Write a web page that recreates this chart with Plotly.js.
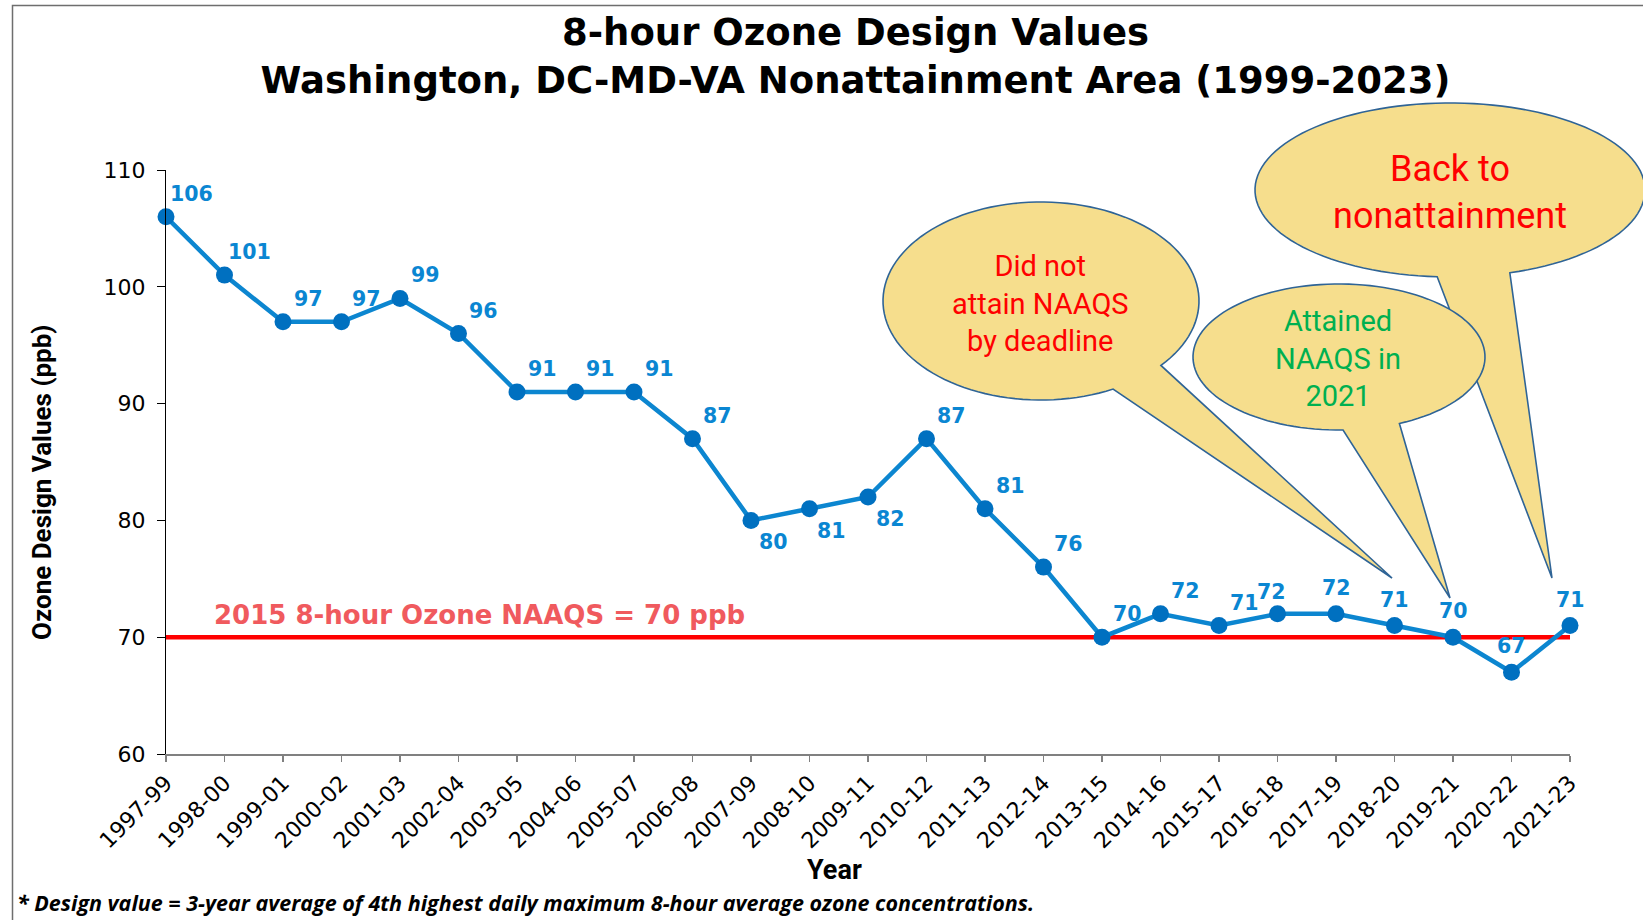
<!DOCTYPE html>
<html><head><meta charset="utf-8">
<script src="https://cdn.plot.ly/plotly-3.0.1.min.js"></script>
<style>html,body{margin:0;padding:0;background:#fff;} #chart{width:1643px;height:920px;}</style>
</head><body><div id="chart"></div>
<script>
// ---- data ----
const periods = ['1997-99','1998-00','1999-01','2000-02','2001-03','2002-04','2003-05','2004-06','2005-07',
  '2006-08','2007-09','2008-10','2009-11','2010-12','2011-13','2012-14','2013-15','2014-16','2015-17',
  '2016-18','2017-19','2018-20','2019-21','2020-22','2021-23'];
const designValues = [106,101,97,97,99,96,91,91,91,87,80,81,82,87,81,76,70,72,71,72,72,71,70,67,71];
const naaqsLevel = 70;
const naaqsText = '2015 8-hour Ozone NAAQS = 70 ppb';
const yTickVals = [60,70,80,90,100,110];
const titleLines = ['8-hour Ozone Design Values','Washington, DC-MD-VA Nonattainment Area (1999-2023)'];
const xTitle = 'Year';
const yTitle = 'Ozone Design Values (ppb)';
const footnote = '* Design value = 3-year average of 4th highest daily maximum 8-hour average ozone concentrations.';
const calloutDeadline = ['Did not','attain NAAQS','by deadline'];
const calloutAttained = ['Attained','NAAQS in','2021'];
const calloutBack = ['Back to','nonattainment'];

// ---- label placement (style) ----
const labelPlacement = ['tr','tr','tr','tr','tr','tr','tr','tr','tr','tr','br','br','br','tr','tr','tr','tr','tr','tr','tl','tc','tc','tc','tc','tc'];
const placeShift = {tr:{x:25,y:23}, br:{x:22,y:-22}, tc:{x:0,y:26}, tl:{x:-6,y:22}};

// ---- geometry helpers ----
const W=1643, H=920, M={l:166,r:73,t:170,b:166};
const PW=W-M.l-M.r, PH=H-M.t-M.b;
const px = x => (x-M.l)/PW;
const py = y => (H-M.b-y)/PH;

function calloutPath(c){
  const ang = p => Math.atan2((p[1]-c.cy)/c.ry, (p[0]-c.cx)/c.rx);
  const a1 = ang(c.b1), a2 = ang(c.b2);
  let d = a1 - a2;
  while(d <= -Math.PI) d += 2*Math.PI;
  while(d > Math.PI) d -= 2*Math.PI;
  const longArc = d - Math.sign(d)*2*Math.PI;
  const N = 120;
  let s = '';
  for(let i=0;i<=N;i++){
    const a = a2 + longArc*i/N;
    const X = c.cx + c.rx*Math.cos(a), Y = c.cy + c.ry*Math.sin(a);
    s += (i===0?'M':'L') + px(X).toFixed(5) + ',' + py(Y).toFixed(5) + ' ';
  }
  s += 'L' + px(c.tip[0]).toFixed(5) + ',' + py(c.tip[1]).toFixed(5) + ' Z';
  return s;
}
const calloutFill = '#f6de8d', calloutLine = '#2f6496';
const calloutGeo = [
  {cx:1041, cy:301, rx:158, ry:99, b1:[1113,389], b2:[1162,366], tip:[1392,578]},
  {cx:1450, cy:190, rx:195, ry:87, b1:[1437,278], b2:[1510,273], tip:[1552,578]},
  {cx:1339, cy:357, rx:146, ry:73, b1:[1343,429], b2:[1399,423], tip:[1450,598]}
];

const shapes = [
  {type:'line', xref:'x', yref:'y', x0:0, x1:periods.length-1, y0:naaqsLevel, y1:naaqsLevel,
   line:{color:'#ff0000', width:4.5}, layer:'below'},
  {type:'path', xref:'paper', yref:'paper', path:`M${px(12.5)},${py(925)} L${px(12.5)},${py(5.5)} L${px(1650)},${py(5.5)}`,
   line:{color:'#6e6e6e', width:1.5}}
];
calloutGeo.forEach(c => shapes.push({type:'path', xref:'paper', yref:'paper', path:calloutPath(c),
  fillcolor:calloutFill, line:{color:calloutLine, width:1.6}, layer:'above'}));

const annotations = [];
designValues.forEach((v,i) => {
  const sh = placeShift[labelPlacement[i]];
  annotations.push({x:periods[i], y:v, xref:'x', yref:'y', text:String(v), showarrow:false,
    xshift:sh.x, yshift:sh.y, font:{family:'DejaVu Sans', size:20.5, weight:'bold', color:'#0a86d2'}});
});
annotations.push({x:px(212), y:py(615), xref:'paper', yref:'paper', xanchor:'left', yanchor:'middle',
  text:naaqsText, showarrow:false, font:{family:'DejaVu Sans', size:26, weight:'bold', color:'#f05a5e'}});
annotations.push({x:px(15), y:py(902), xref:'paper', yref:'paper', xanchor:'left', yanchor:'middle',
  text:footnote, showarrow:false, font:{family:'Open Sans', size:21.5, weight:'bold', style:'italic', color:'#000'}});
annotations.push({x:px(834), y:py(870), xref:'paper', yref:'paper', xanchor:'center', yanchor:'middle',
  text:xTitle, showarrow:false, font:{family:'Roboto', size:27, weight:'bold', color:'#000'}});
annotations.push({x:px(42), y:py(483), xref:'paper', yref:'paper', xanchor:'center', yanchor:'middle', textangle:-90,
  text:yTitle, showarrow:false, font:{family:'Roboto', size:26, weight:'bold', color:'#000'}});

function calloutText(lines, cx, cy, size, color){
  annotations.push({x:px(cx), y:py(cy), xref:'paper', yref:'paper', xanchor:'center', yanchor:'middle',
    text:lines.join('<br>'), showarrow:false, align:'center',
    font:{family:'Roboto', size:size, color:color}});
}
calloutText(calloutDeadline, 1040, 303, 29, '#ff0000');
calloutText(calloutAttained, 1338, 358, 29, '#00b050');
calloutText(calloutBack, 1450, 192, 36, '#ff0000');

const trace = {
  x: periods, y: designValues, type:'scatter', mode:'lines+markers', cliponaxis:false,
  line:{color:'#0c86d0', width:4.5}, marker:{color:'#0070c0', size:17}, hoverinfo:'x+y'
};

const layout = {
  width:W, height:H, margin:M, paper_bgcolor:'#fff', plot_bgcolor:'#fff', showlegend:false,
  title:{text:titleLines.join('<br>'), xref:'container', yref:'container', x:855.5/W, xanchor:'center',
    y:1-44.5/H, yanchor:'middle', font:{family:'DejaVu Sans', size:37, weight:'bold', color:'#000'}},
  xaxis:{type:'category', categoryorder:'array', categoryarray:periods, range:[0, periods.length-1],
    showgrid:false, zeroline:false, showline:true, linecolor:'#808080', linewidth:1.5,
    ticks:'outside', ticklen:6, tickcolor:'#808080', tickwidth:1.5, tickangle:-45,
    tickfont:{family:'DejaVu Sans', size:22, color:'#000'}},
  yaxis:{range:[60,110], tickvals:yTickVals, showgrid:false, zeroline:false, showline:true,
    linecolor:'#000', linewidth:1, ticks:'outside', ticklen:8, tickcolor:'#000', ticklabelstandoff:7,
    tickfont:{family:'DejaVu Sans', size:22, color:'#000'}},
  shapes:shapes, annotations:annotations
};
Plotly.newPlot('chart', [trace], layout, {displayModeBar:false, staticPlot:true});
</script></body></html>
